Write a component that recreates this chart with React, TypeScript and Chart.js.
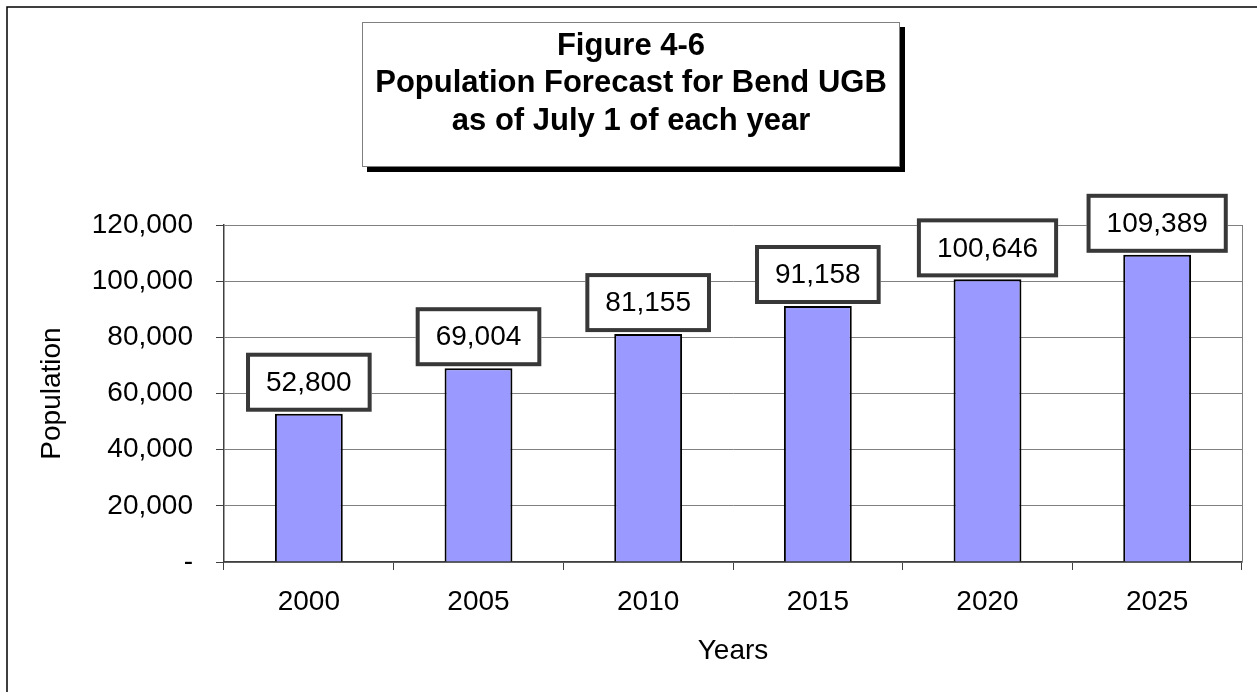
import React, { useEffect, useRef } from 'react';
import { Chart, registerables } from 'chart.js';

Chart.register(...registerables);

const years: string[] = ['2000', '2005', '2010', '2015', '2020', '2025'];
const population: number[] = [52800, 69004, 81155, 91158, 100646, 109389];
const yTickValues: number[] = [0, 20000, 40000, 60000, 80000, 100000, 120000];
const titleLines: string[] = ['Figure 4-6', 'Population Forecast for Bend UGB', 'as of July 1 of each year'];
const xAxisTitle = 'Years';
const yAxisTitle = 'Population';

const FONT = '"Liberation Sans", Arial, Helvetica, sans-serif';
const W = 1257;
const H = 692;

const fmt = (v: number) => (v === 0 ? '-' : v.toLocaleString('en-US'));

const framePlugin = {
  id: 'frame',
  beforeDraw(chart: any) {
    const ctx = chart.ctx;
    ctx.save();
    ctx.fillStyle = '#ffffff';
    ctx.fillRect(0, 0, W, H);
    ctx.strokeStyle = '#000000';
    ctx.lineWidth = 1.5;
    ctx.beginPath();
    ctx.moveTo(7, H);
    ctx.lineTo(7, 7);
    ctx.lineTo(W, 7);
    ctx.stroke();
    ctx.restore();
  },
  beforeDatasetsDraw(chart: any) {
    const { ctx, chartArea } = chart;
    ctx.save();
    ctx.strokeStyle = '#808080';
    ctx.lineWidth = 1;
    ctx.beginPath();
    ctx.moveTo(Math.round(chartArea.right) + 0.5, chartArea.top);
    ctx.lineTo(Math.round(chartArea.right) + 0.5, chartArea.bottom);
    ctx.stroke();
    ctx.restore();
  },
};

const labelPlugin = {
  id: 'valueLabels',
  afterDatasetsDraw(chart: any) {
    const ctx = chart.ctx;
    const meta = chart.getDatasetMeta(0);
    const data = chart.data.datasets[0].data as number[];
    ctx.save();
    ctx.font = `28px ${FONT}`;
    meta.data.forEach((bar: any, i: number) => {
      const text = fmt(data[i]);
      const tw = ctx.measureText(text).width;
      const w = tw + 40;
      const h = 59;
      const bottom = bar.y - 2;
      const top = bottom - h;
      const left = bar.x - w / 2;
      ctx.fillStyle = '#ffffff';
      ctx.fillRect(left, top, w, h);
      ctx.strokeStyle = '#383838';
      ctx.lineWidth = 4;
      ctx.strokeRect(left + 2, top + 2, w - 4, h - 4);
      ctx.fillStyle = '#000000';
      ctx.textAlign = 'center';
      ctx.textBaseline = 'middle';
      ctx.fillText(text, bar.x, top + h / 2 + 1);
    });
    ctx.restore();
  },
};

const titlePlugin = {
  id: 'titleBox',
  afterDraw(chart: any) {
    const ctx = chart.ctx;
    const bx = 362;
    const by = 22;
    const bw = 538;
    const bh = 145;
    ctx.save();
    ctx.fillStyle = '#000000';
    ctx.fillRect(bx + 5, by + 5, bw, bh);
    ctx.fillStyle = '#ffffff';
    ctx.fillRect(bx, by, bw, bh);
    ctx.strokeStyle = '#808080';
    ctx.lineWidth = 1;
    ctx.strokeRect(bx + 0.5, by + 0.5, bw - 1, bh - 1);
    ctx.fillStyle = '#000000';
    ctx.font = `bold 31px ${FONT}`;
    ctx.textAlign = 'center';
    ctx.textBaseline = 'middle';
    const cx = bx + bw / 2;
    titleLines.forEach((line, i) => {
      ctx.fillText(line, cx, 46 + i * 37.5);
    });
    ctx.restore();
  },
};

export default function App() {
  const ref = useRef<HTMLCanvasElement | null>(null);

  useEffect(() => {
    if (!ref.current) return;
    const chart = new Chart(ref.current, {
      type: 'bar',
      data: {
        labels: years,
        datasets: [
          {
            data: population,
            backgroundColor: '#9999FF',
            borderColor: '#000000',
            borderWidth: 2,
            categoryPercentage: 1,
            barPercentage: 0.4,
          },
        ],
      },
      options: {
        animation: false,
        responsive: false,
        devicePixelRatio: 1,
        layout: { padding: { top: 225, right: 15, bottom: 0, left: 0 } },
        plugins: {
          legend: { display: false },
          title: { display: false },
          tooltip: { enabled: false },
        },
        scales: {
          x: {
            type: 'category',
            offset: true,
            grid: {
              offset: true,
              drawOnChartArea: false,
              drawTicks: true,
              tickLength: 8,
              tickColor: '#404040',
            },
            border: { color: '#404040', width: 1.5 },
            ticks: {
              color: '#000000',
              font: { family: FONT, size: 28 },
              padding: 15,
              maxRotation: 0,
            },
            title: {
              display: true,
              text: xAxisTitle,
              color: '#000000',
              font: { family: FONT, size: 28 },
              padding: { top: 0, bottom: 24 },
            },
            afterFit: (s: any) => {
              s.height = 130;
            },
          },
          y: {
            min: 0,
            max: 120000,
            grid: {
              color: '#808080',
              tickColor: '#404040',
              tickLength: 8,
              lineWidth: 1,
            },
            border: { color: '#404040', width: 1.5 },
            ticks: {
              color: '#000000',
              font: { family: FONT, size: 28 },
              padding: 23,
              callback: (v: any) => fmt(Number(v)),
            },
            afterBuildTicks: (s: any) => {
              s.ticks = yTickValues.map((v) => ({ value: v }));
            },
            title: {
              display: true,
              text: yAxisTitle,
              color: '#000000',
              font: { family: FONT, size: 28 },
              padding: { top: 35, bottom: 0 },
            },
            afterFit: (s: any) => {
              s.width = 224;
            },
          },
        },
      },
      plugins: [framePlugin, labelPlugin, titlePlugin],
    });
    return () => chart.destroy();
  }, []);

  return (
    <div style={{ position: 'absolute', left: 0, top: 0, width: W, height: H, background: '#fff' }}>
      <canvas ref={ref} width={W} height={H} style={{ display: 'block', width: W, height: H }} />
    </div>
  );
}
